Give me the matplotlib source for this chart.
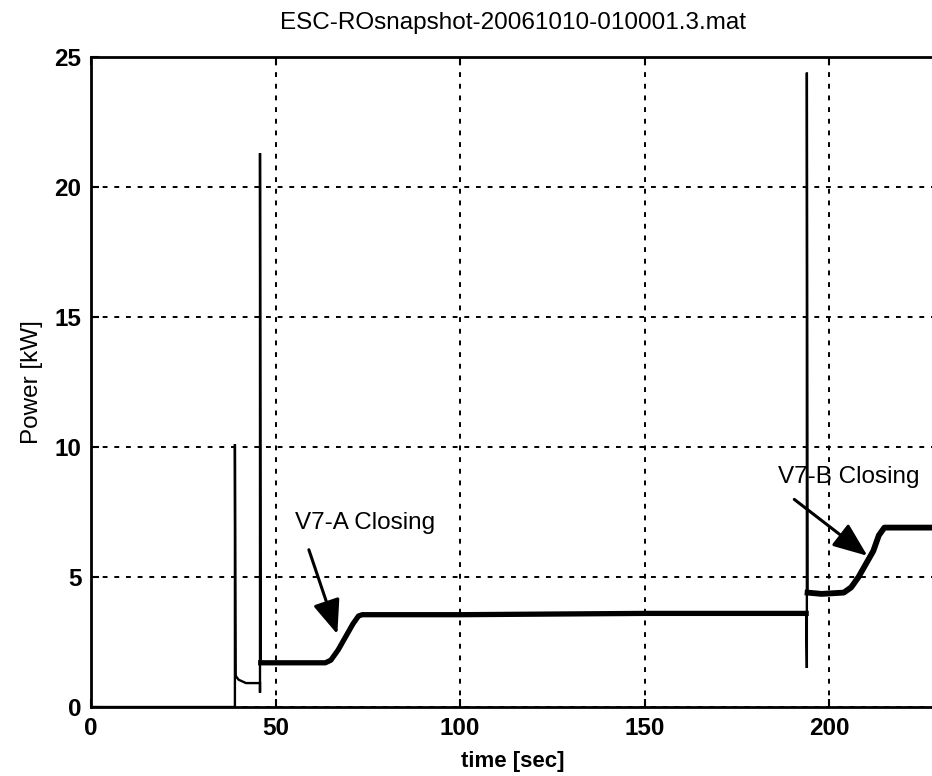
import numpy as np
import matplotlib.pyplot as plt

plt.rcParams['font.family'] = ['Liberation Sans', 'DejaVu Sans']

# Power trace breakpoints (time in s, power in kW)
time_s = [0, 39.0, 39.0, 39.2, 40.0, 42.0, 45.8, 45.8, 45.8, 46.0,
          50, 55, 60, 63.5, 65, 67, 69, 71, 72.5, 73.5,
          100, 150, 193.8, 194.0, 194.0, 194.2, 198, 204,
          206, 208, 210, 212, 213.5, 215, 228.5]
power_kw = [0, 0, 10.1, 1.2, 1.05, 0.92, 0.92, 0.55, 21.3, 1.7,
            1.7, 1.7, 1.7, 1.7, 1.8, 2.2, 2.7, 3.2, 3.5, 3.55,
            3.55, 3.6, 3.6, 1.5, 24.4, 4.4, 4.35, 4.4,
            4.6, 5.0, 5.5, 6.0, 6.6, 6.9, 6.9]

x_ticks = [0, 50, 100, 150, 200]
y_ticks = [0, 5, 10, 15, 20, 25]

title = 'ESC-ROsnapshot-20061010-010001.3.mat'

t = np.array(time_s)
p = np.array(power_kw)

fig = plt.figure(figsize=(9.32, 7.76), dpi=100)
ax = fig.add_axes([91 / 932, 69 / 776, (935 - 91) / 932, (707 - 57) / 776])

ax.plot(t, p, color='k', lw=1.7, solid_joinstyle='miter')
# the noisy flat stretches render as a thick band in the scan
band = (t >= 46.0) & (t <= 193.8)
ax.plot(t[band], p[band], color='k', lw=3.8)
band2 = t >= 194.2
ax.plot(t[band2], p[band2], color='k', lw=4.2)

ax.set_xlim(0, (935 - 91) / 3.69)
ax.set_ylim(0, 25)
ax.set_xticks(x_ticks)
ax.set_yticks(y_ticks)
ax.grid(True, color='k', linestyle=(0, (2.5, 3.5)), linewidth=1.4)
ax.tick_params(direction='in', length=6, width=1.5, top=True, right=False,
               labelsize=17.5, pad=7)
for lab in ax.get_xticklabels() + ax.get_yticklabels():
    lab.set_fontweight('bold')
for s in ax.spines.values():
    s.set_linewidth(2)
ax.spines['right'].set_visible(False)

ax.set_title(title, fontsize=17.5, pad=20)
ax.set_xlabel('time [sec]', fontsize=16, fontweight='bold', labelpad=8)
ax.set_ylabel('Power [kW]', fontsize=17.5, labelpad=8)

arrow = dict(arrowstyle='-|>,head_length=0.7,head_width=0.28', color='k',
             lw=2.2, mutation_scale=30)
ax.annotate('', xy=(67.0, 2.7), xytext=(58.8, 6.15), arrowprops=arrow)
ax.text(55.3, 7.08, 'V7-A Closing', fontsize=17.5, va='center', ha='left')
ax.annotate('', xy=(211.0, 5.75), xytext=(190.0, 8.05), arrowprops=arrow)
ax.text(186.2, 8.85, 'V7-B Closing', fontsize=17.5, va='center', ha='left')

fig.savefig('out.png', dpi=100)
